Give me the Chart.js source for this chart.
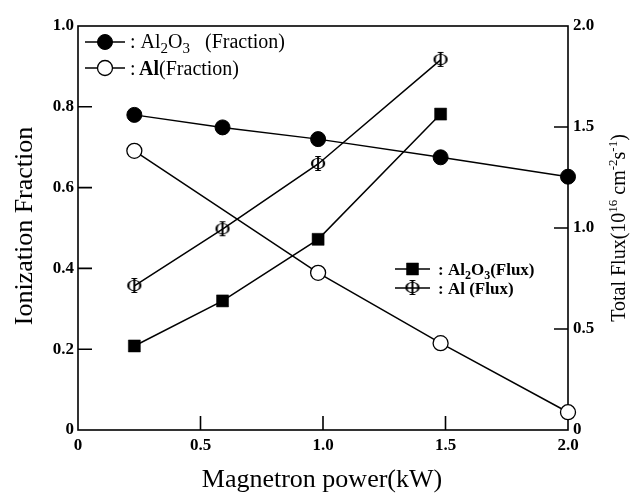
<!DOCTYPE html>
<html><head><meta charset="utf-8">
<style>html,body{margin:0;padding:0;background:#fff;} canvas{display:block;}</style>
<script src="https://cdn.jsdelivr.net/npm/chart.js@4.4.0/dist/chart.umd.min.js"></script>
</head><body>
<canvas id="c" width="632" height="494"></canvas>
<script>
// ---- data ----
const powerAl2O3Fraction = [0.23, 0.59, 0.98, 1.48, 2.0];
const al2o3Fraction      = [0.780, 0.749, 0.720, 0.675, 0.627];
const powerAlFraction    = [0.23, 0.98, 1.48, 2.0];
const alFraction         = [0.691, 0.389, 0.215, 0.044];
const powerFlux          = [0.23, 0.59, 0.98, 1.48];
const al2o3Flux          = [0.416, 0.639, 0.944, 1.564];
const alFlux             = [0.713, 0.994, 1.317, 1.832];
const xTickLabels        = ['0', '0.5', '1.0', '1.5', '2.0'];
const fractionTickLabels = ['0', '0.2', '0.4', '0.6', '0.8', '1.0'];
const fluxTickLabels     = ['0', '0.5', '1.0', '1.5', '2.0'];

const SERIF = '"Liberation Serif", "DejaVu Serif", serif';

function pts(xs, ys) { return xs.map((x, i) => ({x: x, y: ys[i]})); }

function makePhi() {
  const c = document.createElement('canvas');
  c.width = 24; c.height = 24;
  const g = c.getContext('2d');
  g.fillStyle = '#000';
  g.font = '20px "DejaVu Serif", serif';
  g.textAlign = 'center';
  g.textBaseline = 'alphabetic';
  g.fillText('\u03A6', 12, 19);
  return c;
}
const phi = makePhi();

function drawRuns(ctx, items, x, y, align) {
  const f = it => (it.b ? 'bold ' : '') + it.s + 'px ' + SERIF;
  let w = 0;
  items.forEach(it => { ctx.font = f(it); w += ctx.measureText(it.t).width; });
  let cx = align === 'center' ? x - w / 2 : x;
  items.forEach(it => {
    ctx.font = f(it);
    ctx.fillText(it.t, cx, y + (it.dy || 0));
    cx += ctx.measureText(it.t).width;
  });
}

const overlay = {
  id: 'overlay',
  beforeDatasetsDraw(chart) {
    const ctx = chart.ctx, a = chart.chartArea;
    const xs = chart.scales.x, yl = chart.scales.yL, yr = chart.scales.yR;
    ctx.save();
    ctx.strokeStyle = '#000';
    ctx.lineWidth = 1.6;
    ctx.strokeRect(a.left, a.top, a.right - a.left, a.bottom - a.top);
    const T = 14;
    ctx.beginPath();
    xs.ticks.forEach(t => {
      if (t.value > xs.min && t.value < xs.max) {
        const p = xs.getPixelForValue(t.value);
        ctx.moveTo(p, a.bottom); ctx.lineTo(p, a.bottom - T);
      }
    });
    yl.ticks.forEach(t => {
      if (t.value > yl.min && t.value < yl.max) {
        const p = yl.getPixelForValue(t.value);
        ctx.moveTo(a.left, p); ctx.lineTo(a.left + T, p);
      }
    });
    yr.ticks.forEach(t => {
      if (t.value > yr.min && t.value < yr.max) {
        const p = yr.getPixelForValue(t.value);
        ctx.moveTo(a.right, p); ctx.lineTo(a.right - T, p);
      }
    });
    ctx.stroke();
    ctx.restore();
  },
  afterDraw(chart) {
    const ctx = chart.ctx;
    const ds = chart.data.datasets;
    ctx.save();
    ctx.fillStyle = '#000';
    ctx.strokeStyle = '#000';
    ctx.textBaseline = 'alphabetic';
    // axis titles
    drawRuns(ctx, [{t: 'Magnetron power(kW)', s: 26}], 322, 487, 'center');
    ctx.save();
    ctx.translate(32, 226);
    ctx.rotate(-Math.PI / 2);
    drawRuns(ctx, [{t: 'Ionization Fraction', s: 26}], 0, 0, 'center');
    ctx.restore();
    ctx.save();
    ctx.translate(625, 228);
    ctx.rotate(-Math.PI / 2);
    drawRuns(ctx, [
      {t: 'Total Flux(10', s: 20},
      {t: '16', s: 13, dy: -8},
      {t: ' cm', s: 20},
      {t: '-2', s: 13, dy: -8},
      {t: 's', s: 20},
      {t: '-1', s: 13, dy: -8},
      {t: ')', s: 20}
    ], 0, 0, 'center');
    ctx.restore();

    // legends
    function legendRow(d, x1, x2, cy) {
      ctx.save();
      ctx.lineWidth = d.borderWidth;
      ctx.strokeStyle = d.borderColor;
      ctx.beginPath(); ctx.moveTo(x1, cy); ctx.lineTo(x2, cy); ctx.stroke();
      ctx.fillStyle = d.pointBackgroundColor;
      ctx.strokeStyle = d.pointBorderColor;
      ctx.lineWidth = d.pointBorderWidth;
      Chart.helpers.drawPoint(ctx, {pointStyle: d.pointStyle, radius: d.pointRadius, rotation: 0, borderWidth: d.pointBorderWidth}, (x1 + x2) / 2, cy);
      ctx.restore();
    }
    legendRow(ds[0], 85, 125, 42);
    legendRow(ds[1], 85, 125, 68);
    legendRow(ds[2], 395, 430, 269);
    legendRow(ds[3], 395, 430, 288);
    ctx.fillStyle = '#000';
    drawRuns(ctx, [
      {t: ': Al', s: 20}, {t: '2', s: 15, dy: 5}, {t: 'O', s: 20}, {t: '3', s: 15, dy: 5}, {t: '   (Fraction)', s: 20}
    ], 130, 48, 'left');
    drawRuns(ctx, [
      {t: ':', s: 20}, {t: ' ', s: 14}, {t: 'Al', s: 20, b: true}, {t: '(Fraction)', s: 20}
    ], 130, 75, 'left');
    drawRuns(ctx, [
      {t: ': Al', s: 17, b: true}, {t: '2', s: 12, b: true, dy: 4}, {t: 'O', s: 17, b: true}, {t: '3', s: 12, b: true, dy: 4}, {t: '(Flux)', s: 17, b: true}
    ], 438, 275, 'left');
    drawRuns(ctx, [
      {t: ': Al (Flux)', s: 17, b: true}
    ], 438, 294, 'left');
    ctx.restore();
  }
};

const tickFont = {family: SERIF, size: 17, weight: 'bold'};

new Chart(document.getElementById('c'), {
  type: 'line',
  data: {
    datasets: [
      {
        label: 'Al2O3 (Fraction)', data: pts(powerAl2O3Fraction, al2o3Fraction), yAxisID: 'yL',
        borderColor: '#000', borderWidth: 1.5, pointStyle: 'circle', pointRadius: 7.5,
        pointBackgroundColor: '#000', pointBorderColor: '#000', pointBorderWidth: 1, clip: false
      },
      {
        label: 'Al (Fraction)', data: pts(powerAlFraction, alFraction), yAxisID: 'yL',
        borderColor: '#000', borderWidth: 1.5, pointStyle: 'circle', pointRadius: 7.5,
        pointBackgroundColor: '#fff', pointBorderColor: '#000', pointBorderWidth: 1.3, clip: false
      },
      {
        label: 'Al2O3(Flux)', data: pts(powerFlux, al2o3Flux), yAxisID: 'yR',
        borderColor: '#000', borderWidth: 1.5, pointStyle: 'rect', pointRadius: 8.5,
        pointBackgroundColor: '#000', pointBorderColor: '#000', pointBorderWidth: 0.5, clip: false
      },
      {
        label: 'Al (Flux)', data: pts(powerFlux, alFlux), yAxisID: 'yR',
        borderColor: '#000', borderWidth: 1.5, pointStyle: phi, pointRadius: 10,
        pointBackgroundColor: '#000', pointBorderColor: '#000', pointBorderWidth: 0, clip: false
      }
    ]
  },
  options: {
    responsive: false,
    animation: false,
    events: [],
    layout: {padding: {top: 26, left: 0, right: 0, bottom: 0}},
    plugins: {legend: {display: false}, tooltip: {enabled: false}},
    elements: {line: {tension: 0}},
    scales: {
      x: {
        type: 'linear', min: 0, max: 2.0,
        grid: {display: false, drawTicks: false}, border: {display: false},
        ticks: {stepSize: 0.5, padding: 5, color: '#000', font: tickFont, maxRotation: 0,
          callback: (v, i) => xTickLabels[i]},
        afterFit: s => { s.height = 64; }
      },
      yL: {
        type: 'linear', position: 'left', min: 0, max: 1.0,
        grid: {display: false, drawTicks: false}, border: {display: false},
        ticks: {stepSize: 0.2, padding: 4, color: '#000', font: tickFont,
          callback: (v, i) => fractionTickLabels[i]},
        afterFit: s => { s.width = 78; }
      },
      yR: {
        type: 'linear', position: 'right', min: 0, max: 2.0,
        grid: {display: false, drawTicks: false}, border: {display: false},
        ticks: {stepSize: 0.5, padding: 5, color: '#000', font: tickFont,
          callback: (v, i) => fluxTickLabels[i]},
        afterFit: s => { s.width = 64; }
      }
    }
  },
  plugins: [overlay]
});
</script>
</body></html>
